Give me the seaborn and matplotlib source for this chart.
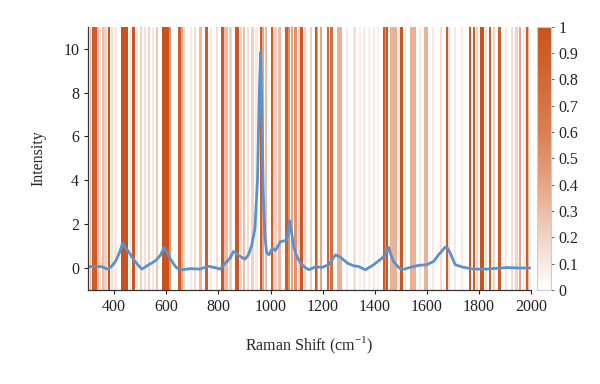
import seaborn as sns
import pandas as pd
import numpy as np
import matplotlib.pyplot as plt
from matplotlib.colors import LinearSegmentedColormap

### Datos del espectro Raman
raman_shift = [303, 311, 330, 349, 375, 392, 407, 420, 432, 442, 455, 468, 480, 494, 506,
               520, 532, 548, 563, 578, 591, 603, 614, 627, 640, 659, 691, 729, 762, 793,
               806, 825, 845, 857, 866, 876, 902, 915, 927, 940, 950, 957, 962, 967, 972,
               978, 985, 994, 1007, 1019, 1038, 1058, 1066, 1074, 1081, 1089, 1100, 1115,
               1130, 1147, 1172, 1198, 1223, 1238, 1249, 1268, 1294, 1319, 1338, 1364, 1396,
               1428, 1442, 1453, 1462, 1472, 1490, 1505, 1536, 1568, 1600, 1626, 1645, 1660,
               1670, 1680, 1690, 1700, 1709, 1741, 1779, 1830, 1907, 1960, 1996]
intensity = [0.05, 0.07, 0.06, 0.07, -0.05, 0.1, 0.35, 0.7, 1.13, 0.95, 0.75, 0.5, 0.3, 0.1, -0.05,
             0.05, 0.15, 0.25, 0.38, 0.6, 0.94, 0.7, 0.45, 0.2, 0.0, -0.08, -0.03, -0.05, 0.08, 0.0,
             -0.05, 0.2, 0.45, 0.75, 0.7, 0.58, 0.4, 0.6, 1.0, 1.8, 4.0, 8.0, 9.85, 7.0, 3.5,
             1.5, 0.7, 0.6, 0.9, 0.8, 1.2, 1.25, 1.5, 2.16, 1.6, 0.98, 0.55, 0.23,
             0.05, -0.08, 0.05, 0.03, 0.15, 0.4, 0.6, 0.5, 0.23, 0.1, 0.07, -0.08, 0.15,
             0.45, 0.65, 0.95, 0.6, 0.3, 0.05, -0.08, 0.03, 0.12, 0.15, 0.3, 0.6, 0.8,
             0.95, 0.9, 0.68, 0.4, 0.15, 0.03, -0.05, -0.05, 0.02, 0.0, 0.0]

# Bandas de importancia de variables (inicio, fin, peso)
band_start = [305, 316, 334, 343, 352, 362, 375, 387, 400, 426, 456, 468, 485, 500, 515, 530,
              545, 560, 585, 611, 643, 658, 665, 690, 705, 726, 749, 766, 790, 811, 821, 840,
              862, 882, 895, 908, 924, 940, 959, 969, 980, 1000, 1010, 1030, 1055, 1066, 1078,
              1092, 1106, 1115, 1128, 1150, 1169, 1179, 1190, 1215, 1230, 1256, 1290, 1318,
              1340, 1355, 1375, 1395, 1410, 1432, 1440, 1443, 1460, 1490, 1498, 1515, 1536,
              1570, 1588, 1620, 1650, 1674, 1683, 1705, 1730, 1762, 1779, 1790, 1804, 1825,
              1839, 1855, 1875, 1900, 1925, 1939, 1955, 1970, 1981, 1989]
band_end = [312, 334, 343, 350, 360, 372, 385, 395, 410, 454, 465, 479, 493, 508, 522, 538,
            553, 568, 611, 616, 658, 663, 672, 698, 712, 735, 760, 774, 798, 821, 838, 852,
            879, 890, 902, 916, 937, 950, 969, 976, 988, 1010, 1025, 1040, 1066, 1074, 1085,
            1100, 1112, 1125, 1135, 1158, 1179, 1184, 1198, 1224, 1240, 1275, 1298, 1330,
            1346, 1362, 1381, 1402, 1416, 1440, 1443, 1452, 1485, 1496, 1508, 1522, 1560,
            1577, 1603, 1628, 1657, 1683, 1690, 1712, 1738, 1770, 1785, 1798, 1820, 1832,
            1847, 1862, 1884, 1908, 1932, 1952, 1963, 1977, 1989, 1994]
band_weight = [0.3, 0.9, 0.3, 0.15, 0.3, 0.2, 1.0, 0.15, 0.1, 1.0, 0.1, 0.95, 0.1, 0.2, 0.15, 0.2,
               0.1, 0.25, 1.0, 0.5, 0.9, 0.4, 0.2, 0.1, 0.15, 0.3, 0.9, 0.1, 0.15, 0.95, 0.3, 0.2,
               0.95, 0.2, 0.3, 0.15, 0.2, 0.1, 0.9, 0.4, 0.3, 0.9, 0.2, 0.3, 0.9, 0.5, 0.4,
               0.5, 0.2, 0.95, 0.2, 0.2, 0.95, 0.4, 0.4, 0.85, 0.75, 0.35, 0.1, 0.15,
               0.08, 0.1, 0.08, 0.1, 0.08, 0.9, 0.5, 0.95, 0.35, 0.1, 0.95, 0.15, 0.35,
               0.1, 0.35, 0.1, 0.15, 0.9, 0.15, 0.1, 0.1, 0.95, 0.9, 0.2, 1.0, 0.15,
               0.9, 0.2, 0.9, 0.1, 0.15, 0.2, 0.4, 0.1, 0.9, 0.3]

cbar_ticks = [0, 0.1, 0.2, 0.3, 0.4, 0.5, 0.6, 0.7, 0.8, 0.9, 1]
x_ticks = [400, 600, 800, 1000, 1200, 1400, 1600, 1800, 2000]
y_ticks = [0, 2, 4, 6, 8, 10]

df_spec = pd.DataFrame({"Raman": raman_shift, "Intensidad": intensity})

# Malla uniforme de pesos a partir de las bandas
grid = np.arange(300, 2001, 1)
weights = np.zeros(len(grid) - 1)
for s, e, w in zip(band_start, band_end, band_weight):
    weights[(grid[:-1] >= s) & (grid[:-1] < e)] = w

### Gráfico
sns.set_style("ticks")
plt.rcParams['font.family'] = ['Liberation Serif', 'DejaVu Serif']
plt.rcParams['mathtext.fontset'] = 'custom'
plt.rcParams['mathtext.rm'] = 'Liberation Serif'

cmap = LinearSegmentedColormap.from_list(
    "naranja", [(0, "#FFFFFF"), (0.2, "#F2D3C3"), (0.4, "#E6A585"), (0.6, "#DA7F52"), (1, "#CA521D")])

fig = plt.figure(figsize=(6, 3.84), dpi=100)
ax = fig.add_axes([0.147, 0.245, 0.738, 0.685])
cax = fig.add_axes([0.895, 0.245, 0.023, 0.685])

mesh = ax.pcolormesh(grid, [-1, 11], weights[np.newaxis, :], cmap=cmap, vmin=0, vmax=1,
                     shading='flat', rasterized=True)
sns.lineplot(data=df_spec, x="Raman", y="Intensidad", ax=ax, color="#5B91CC", linewidth=2)

ax.set_xlim(300, 2000)
ax.set_ylim(-1, 11)
ax.set_xticks(x_ticks)
ax.set_yticks(y_ticks)
ax.tick_params(labelsize=11.5, length=3, width=0.8, colors="#222222")
ax.set_xlabel(r"Raman Shift (cm$^{\mathregular{-1}}$)", fontsize=11.5, labelpad=14)
ax.set_ylabel("Intensity", fontsize=11.5, labelpad=12)
sns.despine(ax=ax)
for sp in ["left", "bottom"]:
    ax.spines[sp].set_color("#333333")
    ax.spines[sp].set_linewidth(0.9)

cb = fig.colorbar(mesh, cax=cax, ticks=cbar_ticks)
cb.ax.set_yticklabels([f"{t:g}" for t in cbar_ticks])
cb.ax.tick_params(labelsize=11.5, length=2, width=0.5, colors="#222222")
cb.outline.set_edgecolor("#CCCCCC")
cb.outline.set_linewidth(0.8)

plt.savefig("out.png", dpi=100)
